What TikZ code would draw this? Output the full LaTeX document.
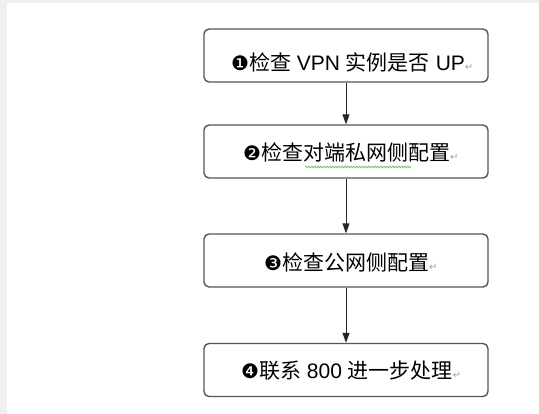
\documentclass[tikz,border=0pt]{standalone}
\usepackage{fontspec}
\setmainfont{Liberation Sans}
\newfontfamily\cjk{Noto Sans CJK SC}
\newfontfamily\symf{DejaVu Sans}
\usetikzlibrary{arrows.meta,decorations.pathmorphing}
\definecolor{bggrey}{HTML}{F0F0F0}
\definecolor{boxline}{HTML}{555555}
\definecolor{retgrey}{HTML}{A0A0A0}
\definecolor{wavygreen}{HTML}{70B870}
\newcommand{\retmark}{{\symf\fontsize{10}{12}\selectfont\color{retgrey}↵}}
\newcommand{\cnum}[1]{{\symf\fontsize{20}{22}\selectfont #1}}
\tikzset{
  stepbox/.style={draw=boxline, line width=1.4pt, rounded corners=5pt, fill=white,
    minimum width=284pt, minimum height=53pt, inner sep=0pt},
  steptext/.style={anchor=base west, inner sep=0pt, font=\fontsize{21}{24}\selectfont, text=black},
  arr/.style={draw=black!85, line width=1pt, -{Triangle[width=7pt,length=10pt]}}
}
\begin{document}
\begin{tikzpicture}[x=1pt,y=-1pt]
\fill[bggrey] (0,0) rectangle (539,414);
\fill[white] (7,3) rectangle (539,414);
\useasboundingbox (0,0) rectangle (539,414);

\node[stepbox] (b1) at (346,55.5) {};
\node[stepbox] (b2) at (346,151.5) {};
\node[stepbox] (b3) at (346,260.5) {};
\node[stepbox] (b4) at (346,370) {};

\node[steptext] (t1) at (231,71) {\cnum{❶}{\cjk 检查} VPN {\cjk 实例是否} UP\retmark};
\node[steptext] (t2) at (243,161) {\cnum{❷}{\cjk 检查对端私网侧配置}\retmark};
\node[steptext] (t3) at (264,271) {\cnum{❸}{\cjk 检查公网侧配置}\retmark};
\node[steptext] (t4) at (241,379) {\cnum{❹}{\cjk 联系} 800 {\cjk 进一步处理}\retmark};

\draw[wavygreen, line width=0.7pt, decorate, decoration={snake, amplitude=0.9pt, segment length=3pt}] (305,167) -- (411,167);

\draw[arr] (b1) -- (b2);
\draw[arr] (b2) -- (b3);
\draw[arr] (b3) -- (b4);
\end{tikzpicture}
\end{document}
